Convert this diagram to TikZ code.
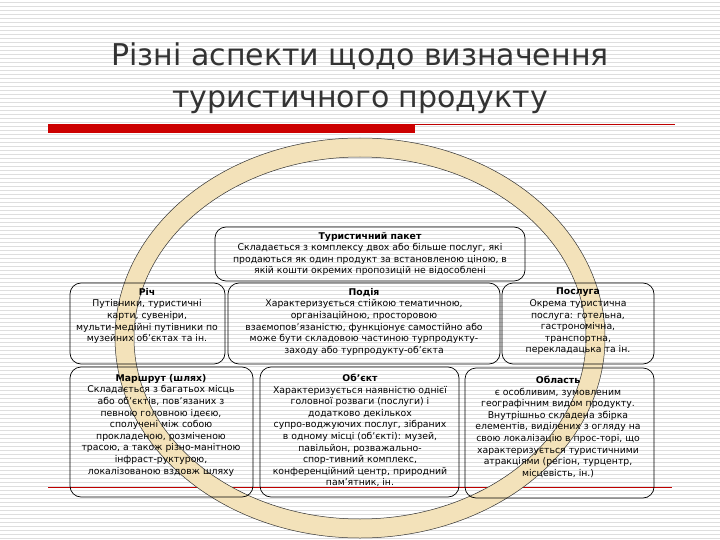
\documentclass[tikz,border=0pt]{standalone}
\usepackage{fontspec}
\setmainfont{DejaVu Sans}
\newfontfamily\titlefont{DejaVu Sans}
\definecolor{ringc}{RGB}{243,226,186}
\begin{document}
\begin{tikzpicture}[x=1pt,y=-1pt,
  box/.style={draw=black,rounded corners=11pt,line width=0.7pt},
  txt/.style={align=center,font=\fontsize{9.3}{11.6}\selectfont,inner sep=0pt},
  ttl/.style={align=center,font=\titlefont\fontsize{30}{42}\selectfont,text=black!80}]
\useasboundingbox (0,0) rectangle (720,540);
\fill[white] (0,0) rectangle (720,540);
\foreach \y in {2,6,...,538} \draw[black!13,line width=0.6pt] (0,\y) -- (720,\y);
% title
\node[ttl] (title) at (360,78) {Різні аспекти щодо визначення\\туристичного продукту};
\draw[red!75!black,line width=0.6pt] (48,124) -- (675,124);
\fill[red!80!black] (48,124) rectangle (415,133);
\draw[red!75!black,line width=0.6pt] (48,487) -- (672,487);
% ring
\fill[ringc,even odd rule] (360,338) ellipse [x radius=245,y radius=200] (360,338) ellipse [x radius=226,y radius=181];
\draw[black!80,line width=0.5pt] (360,338) ellipse [x radius=245,y radius=200];
\draw[black!80,line width=0.5pt] (360,338) ellipse [x radius=226,y radius=181];
% boxes
\draw[box] (215,227) rectangle (525,281);
\node[txt] (pak) at (370,254) {\textbf{Туристичний пакет}\\Складається з комплексу двох або більше послуг, які\\продаються як один продукт за встановленою ціною, в\\якій кошти окремих пропозицій не відособлені};
\draw[box] (70,283) rectangle (225,364);
\node[txt,anchor=north] (rich) at (147,288) {\textbf{Річ}\\Путівники, туристичні\\карти, сувеніри,\\мульти-медійні путівники по\\музейних об’єктах та ін.};
\draw[box] (228,283) rectangle (500,364);
\node[txt,anchor=north] (podia) at (364,288) {\textbf{Подія}\\Характеризується стійкою тематичною,\\організаційною, просторовою\\взаємопов’язаністю, функціонує самостійно або\\може бути складовою частиною турпродукту-\\заходу або турпродукту-об’єкта};
\draw[box] (502,283) rectangle (654,364);
\node[txt,anchor=north] (posl) at (578,288) {\textbf{Послуга}\\Окрема туристична\\послуга: готельна,\\гастрономічна,\\транспортна,\\перекладацька та ін.};
\draw[box] (70,367) rectangle (253,497);
\node[txt,anchor=north] (marsh) at (161,374) {\textbf{Маршрут (шлях)}\\Складається з багатьох місць\\або об’єктів, пов’язаних з\\певною головною ідеєю,\\сполучені між собою\\прокладеною, розміченою\\трасою, а також різно-манітною\\інфраст-руктурою,\\локалізованою вздовж шляху};
\draw[box] (260,367) rectangle (459,497);
\node[txt,anchor=north] (obj) at (360,374) {\textbf{Об’єкт}\\Характеризується наявністю однієї\\головної розваги (послуги) і\\додатково декількох\\супро-воджуючих послуг, зібраних\\в одному місці (об’єкті): музей,\\павільйон, розважально-\\спор-тивний комплекс,\\конференційний центр, природний\\пам’ятник, ін.};
\draw[box] (465,368) rectangle (654,498);
\node[txt,anchor=north] (obl) at (558,376) {\textbf{Область}\\є особливим, зумовленим\\географічним видом продукту.\\Внутрішньо складена збірка\\елементів, виділених з огляду на\\свою локалізацію в прос-торі, що\\характеризується туристичними\\атракціями (регіон, турцентр,\\місцевість, ін.)};
\end{tikzpicture}
\end{document}
